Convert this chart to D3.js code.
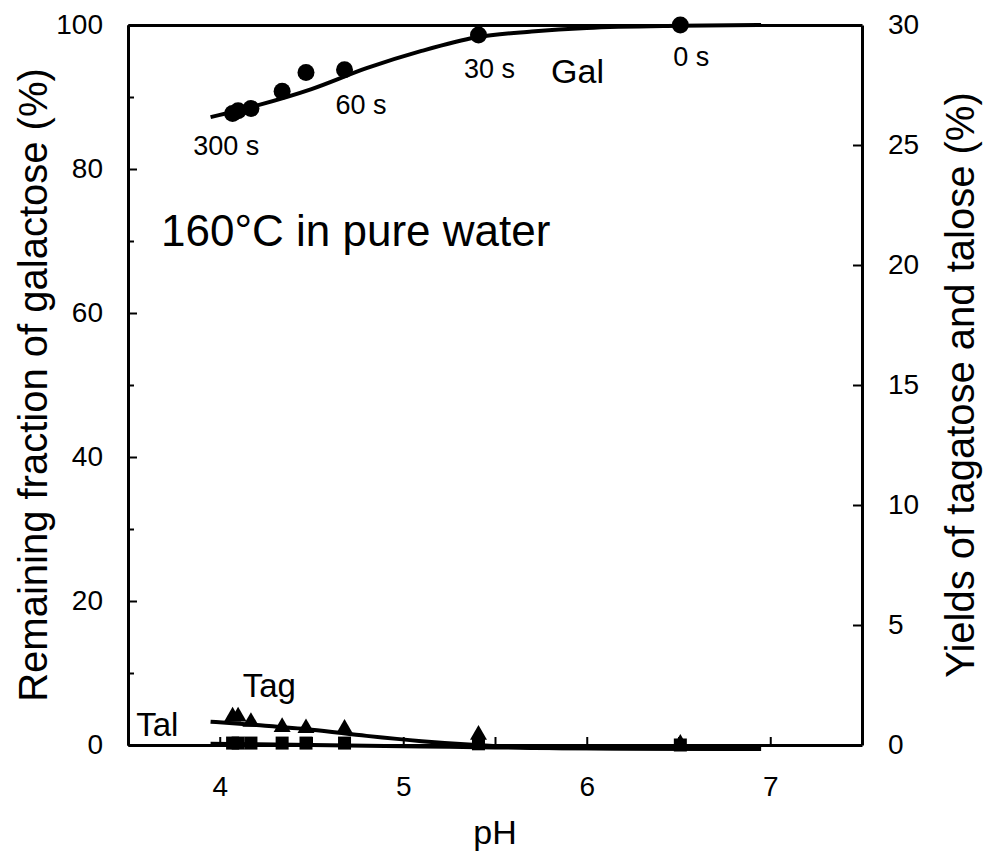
<!DOCTYPE html>
<html>
<head>
<meta charset="utf-8">
<script src="https://cdn.jsdelivr.net/npm/d3@7"></script>
<style>
  body { margin: 0; background: #fff; }
  svg { font-family: "Liberation Sans", Arial, sans-serif; }
</style>
</head>
<body>
<div id="chart"></div>
<script>
//Measured points (time order: 0, 30, 60 ... 300 s)
const phValues = [6.51, 5.41, 4.68, 4.47, 4.34, 4.17, 4.10, 4.07];
const galValues = [100, 98.6, 93.8, 93.4, 90.8, 88.4, 88.1, 87.7];
const tagValues = [0.05, 0.42, 0.67, 0.70, 0.75, 0.96, 1.18, 1.18];
const talValues = [0, 0.05, 0.08, 0.08, 0.08, 0.08, 0.08, 0.08];

//Fitted curves
const curvePH = [3.95, 4.2, 4.5, 4.8, 5.1, 5.4, 5.7, 6.0, 6.5, 6.95];
const galCurve = [87.2, 88.8, 91.1, 94.0, 96.4, 98.3, 99.1, 99.6, 99.9, 100];
const tagCurve = [0.97, 0.83, 0.64, 0.38, 0.16, 0.0, -0.1, -0.14, -0.16, -0.17];
const talCurve = [0.05, 0.03, 0.0, -0.03, -0.06, -0.09, -0.12, -0.14, -0.16, -0.17];

//Ticks
const xTicks = [4, 5, 6, 7];
const xMinorTicks = [4, 4.5, 5, 5.5, 6, 6.5, 7];
const leftTicks = [0, 20, 40, 60, 80, 100];
const leftMinorTicks = [10, 30, 50, 70, 90];
const rightTicks = [0, 5, 10, 15, 20, 25, 30];

//Labels placed in data units [pH, left axis %]
const notes = [
    {text: "300 s", ph: 4.036, v: 83.3, size: 27},
    {text: "60 s", ph: 4.77, v: 88.9, size: 27},
    {text: "30 s", ph: 5.47, v: 93.9, size: 27},
    {text: "0 s", ph: 6.57, v: 95.6, size: 27},
    {text: "Gal", ph: 5.95, v: 93.6, size: 34},
    {text: "Tag", ph: 4.27, v: 8.3, size: 33},
    {text: "Tal", ph: 3.66, v: 2.8, size: 33}
];

//Dim and margins
const width = 990;
const height = 853;
const margin = {top: 25, right: 128, bottom: 108, left: 128};

const svg = d3.select("#chart")
    .append("svg")
    .attr("width", width)
    .attr("height", height);

//Scaling
const x = d3.scaleLinear().domain([3.5, 7.5]).range([margin.left, width - margin.right]);
const yL = d3.scaleLinear().domain([0, 100]).range([height - margin.bottom, margin.top]);
const yR = d3.scaleLinear().domain([0, 30]).range([height - margin.bottom, margin.top]);

const x0 = margin.left, x1 = width - margin.right;
const yTop = margin.top, yBot = height - margin.bottom;

function styleAxis(g, size) {
    g.selectAll(".domain").attr("stroke", "#000").attr("stroke-width", 3);
    g.selectAll(".tick line").attr("stroke", "#000").attr("stroke-width", 2);
    g.selectAll(".tick text").attr("fill", "#000").style("font-size", size + "px")
        .style("font-family", "'Liberation Sans', Arial, sans-serif");
}

//Left axis
svg.append("g")
    .attr("transform", `translate(${x0},0)`)
    .call(d3.axisLeft(yL).tickValues(leftMinorTicks).tickSizeInner(-6).tickSizeOuter(0).tickFormat(""))
    .call(g => styleAxis(g, 28));
svg.append("g")
    .attr("transform", `translate(${x0},0)`)
    .call(d3.axisLeft(yL).tickValues(leftTicks).tickSizeInner(-9).tickSizeOuter(0).tickPadding(25))
    .call(g => styleAxis(g, 28));

//Right axis
svg.append("g")
    .attr("transform", `translate(${x1},0)`)
    .call(d3.axisRight(yR).tickValues(rightTicks).tickSizeInner(-9).tickSizeOuter(0).tickPadding(26))
    .call(g => styleAxis(g, 28));

//Bottom axis
svg.append("g")
    .attr("transform", `translate(0,${yBot})`)
    .call(d3.axisBottom(x).tickValues(xMinorTicks).tickSizeInner(-8).tickSizeOuter(0).tickFormat(""))
    .call(g => styleAxis(g, 28));
svg.append("g")
    .attr("transform", `translate(0,${yBot})`)
    .call(d3.axisBottom(x).tickValues(xTicks).tickSize(0).tickPadding(31).tickFormat(d3.format("d")))
    .call(g => g.select(".domain").remove())
    .call(g => styleAxis(g, 28));

//Top border
svg.append("g")
    .attr("transform", `translate(0,${yTop})`)
    .call(d3.axisTop(x).tickValues([]).tickSizeOuter(0))
    .call(g => styleAxis(g, 28));

//Curves
const curveIdx = d3.range(curvePH.length);
const lineL = vals => d3.line().x(i => x(curvePH[i])).y(i => yL(vals[i])).curve(d3.curveMonotoneX);
const lineR = vals => d3.line().x(i => x(curvePH[i])).y(i => yR(vals[i])).curve(d3.curveMonotoneX);

svg.append("path").datum(curveIdx).attr("d", lineL(galCurve))
    .attr("fill", "none").attr("stroke", "#000").attr("stroke-width", 4);
svg.append("path").datum(curveIdx).attr("d", lineR(talCurve))
    .attr("fill", "none").attr("stroke", "#000").attr("stroke-width", 4);
svg.append("path").datum(curveIdx).attr("d", lineR(tagCurve))
    .attr("fill", "none").attr("stroke", "#000").attr("stroke-width", 4);

const idx = d3.range(phValues.length);

//Tal squares
svg.selectAll("rect.tal")
    .data(idx)
    .enter()
    .append("rect")
    .attr("class", "tal")
    .attr("x", i => x(phValues[i]) - 6.5)
    .attr("y", i => yR(talValues[i]) - 6.5)
    .attr("width", 13)
    .attr("height", 13)
    .attr("fill", "#000");

//Tag triangles
svg.selectAll("path.tag")
    .data(idx)
    .enter()
    .append("path")
    .attr("class", "tag")
    .attr("d", d3.symbol().type(d3.symbolTriangle).size(125))
    .attr("transform", i => `translate(${x(phValues[i])},${yR(tagValues[i])})`)
    .attr("fill", "#000");

//Gal circles
svg.selectAll("circle.gal")
    .data(idx)
    .enter()
    .append("circle")
    .attr("class", "gal")
    .attr("cx", i => x(phValues[i]))
    .attr("cy", i => yL(galValues[i]))
    .attr("r", 8.5)
    .attr("fill", "#000");

//Annotations
svg.selectAll("text.note")
    .data(notes)
    .enter()
    .append("text")
    .attr("class", "note")
    .attr("x", d => x(d.ph))
    .attr("y", d => yL(d.v))
    .attr("dy", "0.35em")
    .attr("text-anchor", "middle")
    .style("font-size", d => d.size + "px")
    .text(d => d.text);

svg.append("text")
    .attr("x", x(3.68))
    .attr("y", yL(71.5))
    .attr("dy", "0.35em")
    .style("font-size", "44px")
    .text("160\u00B0C in pure water");

//Axis titles
svg.append("text")
    .attr("transform", `translate(33,${(yTop + yBot) / 2}) rotate(-90)`)
    .attr("dy", "0.35em")
    .attr("text-anchor", "middle")
    .style("font-size", "40px")
    .text("Remaining fraction of galactose (%)");

svg.append("text")
    .attr("transform", `translate(960,${(yTop + yBot) / 2}) rotate(-90)`)
    .attr("dy", "0.35em")
    .attr("text-anchor", "middle")
    .style("font-size", "40px")
    .text("Yields of tagatose and talose (%)");

svg.append("text")
    .attr("x", (x0 + x1) / 2)
    .attr("y", 832)
    .attr("dy", "0.35em")
    .attr("text-anchor", "middle")
    .style("font-size", "34px")
    .text("pH");
</script>
</body>
</html>
